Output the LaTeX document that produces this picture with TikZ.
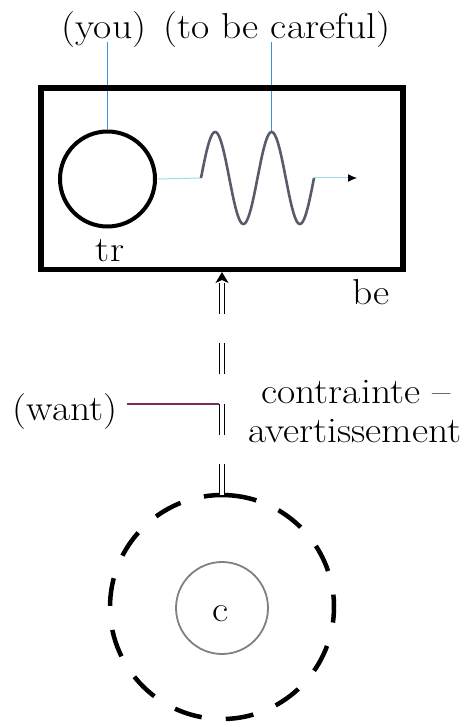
\documentclass[tikz,border=0pt]{standalone}
\usepackage{fontspec}
\setmainfont{Latin Modern Roman}[FakeStretch=1.1]
\usetikzlibrary{arrows.meta}
\definecolor{leadblue}{HTML}{3F8FE0}
\definecolor{wantpurple}{HTML}{7B2D5E}
\definecolor{linkcyan}{HTML}{9FDCEB}
\definecolor{wavegray}{HTML}{5A5A6A}
\begin{document}
\begin{tikzpicture}[x=1pt,y=1pt,
  lbl/.style={font=\fontsize{36}{40}\selectfont, inner sep=0pt},
  frame/.style={draw, line width=5.5pt, minimum width=362pt, minimum height=181pt, inner sep=0pt},
  ring/.style={circle, draw, line width=4pt, minimum size=95pt, inner sep=0pt},
  innerring/.style={circle, draw=gray, line width=1.8pt, minimum size=92pt, inner sep=0pt},
  leader/.style={leadblue, line width=1.5pt},
  link/.style={linkcyan, line width=1pt},
  wavestyle/.style={wavegray, line width=2.6pt},
  wantline/.style={wantpurple, line width=1.3pt},
  dbl/.style={double=white, double distance=3.6pt, line width=1.3pt, dash pattern=on 31pt off 29.5pt, -{Stealth[length=11pt, width=13pt, inset=3pt]}},
  ringdash/.style={line width=4.5pt, dash pattern=on 28pt off 24.2pt}
]
\useasboundingbox (0,0) rectangle (470,-727);

% labels on top
\node[lbl, anchor=base] (you) at (104,-38.5) {(you)};
\node[lbl, anchor=base] (care) at (277,-38.5) {(to be careful)};

% circle and wave
\node[ring] (circ) at (107.5,-179) {};
\coordinate (ws) at (201,-178);
\coordinate (we) at (314,-178);
\coordinate (peak) at (271.6,-132);
\coordinate (tip) at (357,-178);

\draw[leader] (circ.north) -- (circ.north |- 0,-42);
\draw[leader] (peak) -- (peak |- 0,-42);

\node[frame] (box) at (222,-178.75) {};

\draw[link] (circ.east) -- (ws);
\draw[wavestyle] plot[domain=0:720, samples=121, variable=\t] ({201+(\t/720)*113}, {-178+46*sin(\t)});
\draw[link, -{Latex[length=9pt,width=8pt,black]}] (we) -- (tip);

\node[lbl, anchor=base] (tr) at (110,-261) {tr};
\node[lbl, anchor=base] (be) at (371,-304) {be};

% lower circles
\node[circle, minimum size=224pt, inner sep=0pt, outer sep=0pt] (outer) at (222,-607) {};
\draw[ringdash] (outer.center) ++(85:112) arc[start angle=85, end angle=445, radius=112];
\node[innerring] (inner) at (222,-608) {};
\node[lbl, anchor=base] (c) at (221,-621) {c};

% double connector
\draw[dbl] (outer.north) -- (box.south);
\coordinate (wj) at (219,-404);

\node[lbl, anchor=base] (want) at (65,-420) {(want)};
\draw[wantline] ([xshift=9pt]want.east |- wj) -- (wj);

\node[lbl, anchor=base] (cons1) at (356,-403) {contrainte --};
\node[lbl, anchor=base] (cons2) at (355,-442) {avertissement};
\end{tikzpicture}
\end{document}
